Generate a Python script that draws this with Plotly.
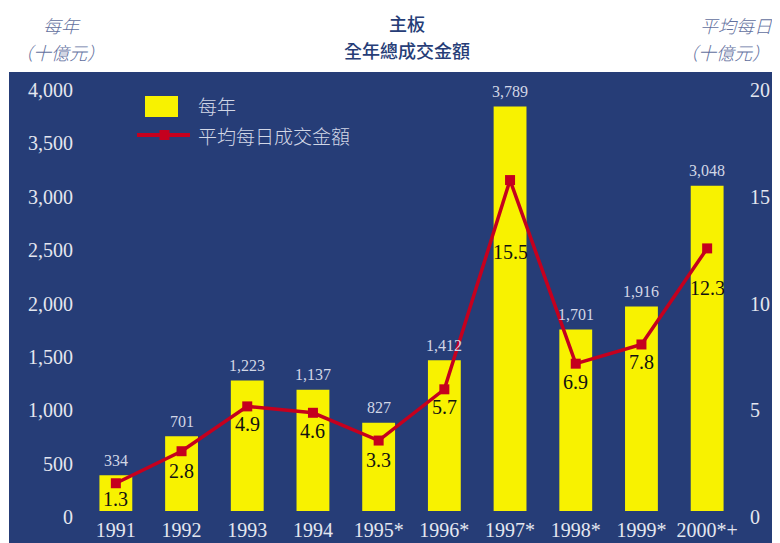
import plotly.graph_objects as go

# ---- data ----
years = ["1991", "1992", "1993", "1994", "1995*", "1996*", "1997*", "1998*", "1999*", "2000*+"]
annual_turnover = [334, 701, 1223, 1137, 827, 1412, 3789, 1701, 1916, 3048]   # 十億元
daily_avg_turnover = [1.3, 2.8, 4.9, 4.6, 3.3, 5.7, 15.5, 6.9, 7.8, 12.3]     # 十億元
left_ticks = [0, 500, 1000, 1500, 2000, 2500, 3000, 3500, 4000]
right_ticks = [0, 5, 10, 15, 20]

# ---- style ----
NAVY = "#263D77"
YELLOW = "#F8F200"
RED = "#C5001E"
TICK_COL = "#E4E7F0"
VAL_COL = "#D2D7E6"
HEAD_COL = "#62709E"
SERIF = "Liberation Serif"
CJK = "Noto Sans CJK TC"

OFF = 8                      # default page body margin
W, H = 780 - OFF, 543 - OFF
L, R, T, B = 75, 40, 76, 32
PW, PH = W - L - R, H - T - B


def px(x):
    """window pixel x -> paper coordinate"""
    return (x - OFF - L) / PW


def py(y):
    """window pixel y -> paper coordinate"""
    return (H - B - (y - OFF)) / PH


# vertical offsets (px) of the daily-average labels below their markers
line_label_shift = [-16, -20, -18, -18, -19, -18, -72, -18, -18, -40]

fig = go.Figure()
fig.add_trace(go.Bar(
    x=years, y=annual_turnover, name="每年",
    marker=dict(color=YELLOW, line=dict(width=0)), width=0.5,
))
fig.add_trace(go.Scatter(
    x=years, y=daily_avg_turnover, yaxis="y2", name="平均每日成交金額",
    mode="lines+markers",
    line=dict(color=RED, width=3.5),
    marker=dict(symbol="square", size=10, color=RED),
))

annotations = []
for i, v in enumerate(annual_turnover):
    annotations.append(dict(
        x=i, y=v, xref="x", yref="y", text=f"{v:,}", showarrow=False,
        yshift=15, font=dict(family=SERIF, size=16, color=VAL_COL),
    ))
for i, (v, s) in enumerate(zip(daily_avg_turnover, line_label_shift)):
    annotations.append(dict(
        x=i, y=v, xref="x", yref="y2", text=f"{v}", showarrow=False,
        yshift=s, font=dict(family=SERIF, size=20, color="#111111"),
    ))

# header texts
head_font = dict(family=CJK, size=18, color=HEAD_COL, style="italic", weight=300)
title_font = dict(family=CJK, size=18, color=NAVY, weight=500)
for text, x, y, font, anchor in [
    ("每年", 62, 25.5, head_font, "center"),
    ("（十億元）", 60, 52, head_font, "center"),
    ("主板", 407, 23.5, title_font, "center"),
    ("全年總成交金額", 407, 50, title_font, "center"),
    ("平均每日", 775, 25.5, head_font, "right"),
    ("（十億元）", 772, 52, head_font, "right"),
]:
    annotations.append(dict(
        x=px(x), y=py(y), xref="paper", yref="paper", text=text,
        showarrow=False, xanchor=anchor, yanchor="middle", font=font,
    ))

# manual legend
leg_font = dict(family=CJK, size=19, color=VAL_COL, weight=300)
annotations.append(dict(x=px(196), y=py(106), xref="paper", yref="paper",
                        text="每年", showarrow=False, xanchor="left",
                        yanchor="middle", font=leg_font))
annotations.append(dict(x=px(196), y=py(135), xref="paper", yref="paper",
                        text="平均每日成交金額", showarrow=False, xanchor="left",
                        yanchor="middle", font=leg_font))

shapes = [
    dict(type="rect", xref="paper", yref="paper", layer="below",
         x0=px(9), x1=px(790), y0=py(560), y1=py(72),
         fillcolor=NAVY, line=dict(width=0)),
    dict(type="rect", xref="paper", yref="paper",
         x0=px(145), x1=px(178), y0=py(117), y1=py(96),
         fillcolor=YELLOW, line=dict(width=0)),
    dict(type="line", xref="paper", yref="paper",
         x0=px(137), x1=px(190), y0=py(135), y1=py(135),
         line=dict(color=RED, width=4)),
    dict(type="rect", xref="paper", yref="paper",
         x0=px(159.5), x1=px(169.5), y0=py(140), y1=py(130),
         fillcolor=RED, line=dict(width=0)),
]

fig.update_layout(
    width=W, height=H,
    margin=dict(l=L, r=R, t=T, b=B, pad=0, autoexpand=False),
    paper_bgcolor="white", plot_bgcolor=NAVY,
    showlegend=False, bargap=0.5,
    annotations=annotations, shapes=shapes,
    xaxis=dict(
        type="category", range=[-0.5, 9.5],
        tickvals=years, ticktext=years,
        tickfont=dict(family=SERIF, size=20, color=TICK_COL),
        showgrid=False, zeroline=False, showline=False, ticks="",
        ticklabelstandoff=5, automargin=False,
    ),
    yaxis=dict(
        range=[0, 4000], tickvals=left_ticks,
        ticktext=[f"{t:,}" for t in left_ticks],
        tickfont=dict(family=SERIF, size=20, color=TICK_COL),
        showgrid=False, zeroline=False, showline=False, ticks="",
        ticklabelstandoff=9, ticklabelshift=6, automargin=False,
    ),
    yaxis2=dict(
        range=[0, 20], tickvals=right_ticks,
        ticktext=[str(t) for t in right_ticks],
        overlaying="y", side="right",
        tickfont=dict(family=SERIF, size=20, color=TICK_COL),
        showgrid=False, zeroline=False, showline=False, ticks="",
        ticklabelstandoff=9, ticklabelshift=6, automargin=False,
    ),
)

fig.write_html("out.html")
